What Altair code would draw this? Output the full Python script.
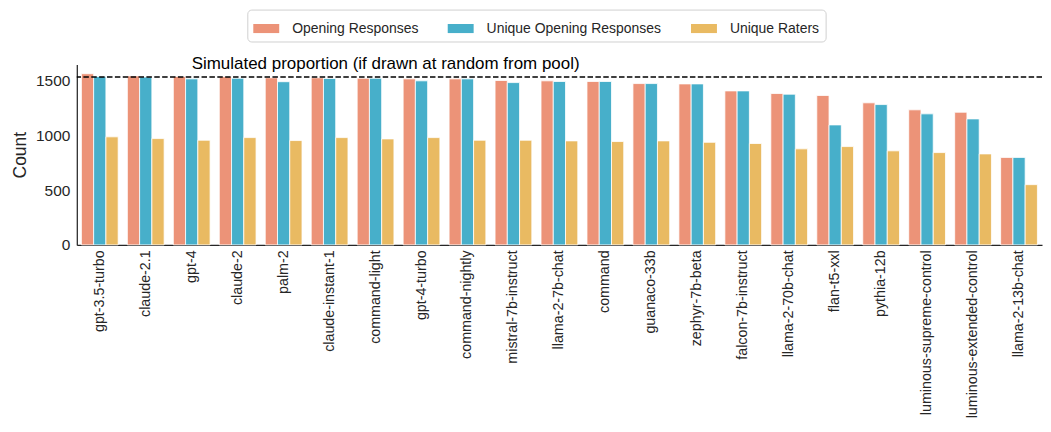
import altair as alt
import pandas as pd

models = ["gpt-3.5-turbo", "claude-2.1", "gpt-4", "claude-2", "palm-2", "claude-instant-1",
          "command-light", "gpt-4-turbo", "command-nightly", "mistral-7b-instruct",
          "llama-2-7b-chat", "command", "guanaco-33b", "zephyr-7b-beta", "falcon-7b-instruct",
          "llama-2-70b-chat", "flan-t5-xxl", "pythia-12b", "luminous-supreme-control",
          "luminous-extended-control", "llama-2-13b-chat"]
opening = [1565, 1545, 1540, 1538, 1528, 1528, 1524, 1518, 1518, 1503, 1500, 1494, 1475,
           1472, 1408, 1384, 1366, 1299, 1235, 1213, 800]
unique_opening = [1540, 1535, 1518, 1524, 1492, 1522, 1524, 1500, 1518, 1484, 1494, 1494,
                  1475, 1472, 1408, 1378, 1097, 1283, 1198, 1152, 800]
unique_raters = [988, 972, 957, 981, 954, 981, 969, 981, 957, 957, 951, 945, 951, 938,
                 927, 878, 899, 860, 844, 832, 551]
series = ["Opening Responses", "Unique Opening Responses", "Unique Raters"]
colors = ["#EC9378", "#47AFCA", "#E9BA62"]
simulated = [1535]
annotation = ["Simulated proportion (if drawn at random from pool)"]
annotation_anchor = ["gpt-4"]

rows = []
for i, m in enumerate(models):
    for s, vals in zip(series, [opening, unique_opening, unique_raters]):
        rows.append({"model": m, "series": s, "count": vals[i]})
df = pd.DataFrame(rows)

FONT = "Liberation Sans"
DARK = "#262626"

bars = alt.Chart(df).mark_bar(stroke="white", strokeWidth=0.8).encode(
    x=alt.X("model:N", sort=models,
            scale=alt.Scale(paddingInner=0.2, paddingOuter=0.1),
            axis=alt.Axis(title=None, labelAngle=270, labelFontSize=14.3, labelPadding=5,
                          ticks=False, domainColor=DARK, domainWidth=1.25,
                          labelColor=DARK, labelLimit=400, labelAlign="right",
                          labelBaseline="middle")),
    xOffset=alt.XOffset("series:N", sort=series,
                        scale=alt.Scale(paddingInner=0, paddingOuter=0)),
    y=alt.Y("count:Q", scale=alt.Scale(domain=[0, 1650], nice=False),
            axis=alt.Axis(title="Count", values=[0, 500, 1000, 1500], format="d",
                          grid=False, ticks=False, domainColor=DARK, domainWidth=1.25,
                          labelFontSize=15.5, labelColor=DARK, labelPadding=7,
                          titleFontSize=17.5, titleFontWeight="normal",
                          titleColor=DARK, titlePadding=6)),
    color=alt.Color("series:N",
                    scale=alt.Scale(domain=series, range=colors),
                    legend=alt.Legend(title=None, orient="none", legendX=171, legendY=-55,
                                      direction="horizontal", columns=3)),
)

rule = alt.Chart(pd.DataFrame({"y": simulated})).mark_rule(
    color="black", strokeDash=[5.5, 2.4], strokeWidth=1.5
).encode(y="y:Q")

text = alt.Chart(pd.DataFrame({"model": annotation_anchor, "y": simulated,
                               "label": annotation})).mark_text(
    align="left", baseline="alphabetic", dy=-8, fontSize=17, font=FONT, color="black"
).encode(x=alt.X("model:N", sort=models), y="y:Q", text="label:N")

chart = alt.layer(bars, rule, text).properties(
    width=968, height=181,
    padding={"left": 3, "top": 0, "right": 0, "bottom": 0},
).configure_view(stroke=None).configure_axis(
    labelFont=FONT, titleFont=FONT
).configure_legend(
    labelFont=FONT, labelFontSize=14, labelColor=DARK, labelLimit=400,
    symbolType="M-1,-0.35L1,-0.35L1,0.35L-1,0.35Z", symbolSize=676,
    symbolStrokeWidth=0, symbolOpacity=1,
    strokeColor="#d0d0d0", cornerRadius=4, padding=6, columnPadding=29,
    labelOffset=13, fillColor="white"
)

chart.save("out.html", embed_options={"renderer": "svg", "actions": False})
